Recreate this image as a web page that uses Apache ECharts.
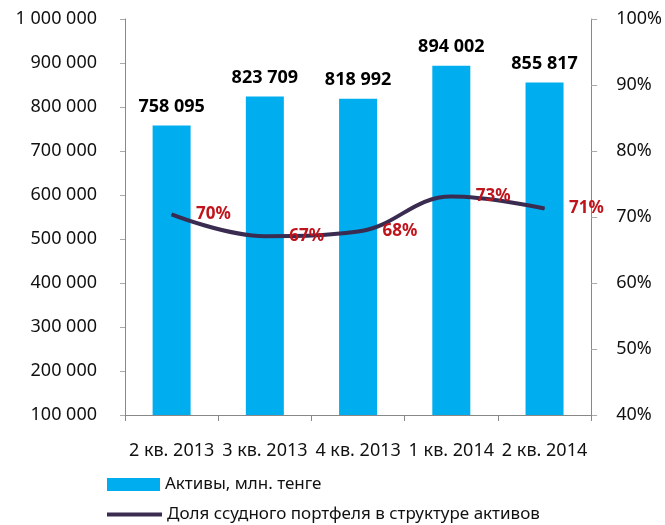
<!DOCTYPE html>
<html>
<head>
<meta charset="utf-8">
<script src="https://cdn.jsdelivr.net/npm/echarts@6/dist/echarts.min.js"></script>
<style>
  html, body { margin: 0; padding: 0; background: #fff; }
  #chart { width: 665px; height: 525px; }
</style>
</head>
<body>
<div id="chart"></div>
<script>
    var categories = ['2 кв. 2013', '3 кв. 2013', '4 кв. 2013', '1 кв. 2014', '2 кв. 2014'];
    var assets = [758095, 823709, 818992, 894002, 855817];
    var loanShare = [70.4, 67.1, 67.8, 73.1, 71.3];

    var fmt = function (v) {
        return String(v).replace(/\B(?=(\d{3})+(?!\d))/g, ' ');
    };

    var chart = echarts.init(document.getElementById('chart'));

    var option = {
        animation: false,
        textStyle: {fontFamily: 'Noto Sans'},
        title: {
            text: '(млн. тенге)',
            left: 378,
            textAlign: 'center',
            top: -21,
            textStyle: {fontSize: 14, fontWeight: 'bold', color: '#000'}
        },
        legend: [
            {
                left: 107,
                top: 476,
                padding: 0,
                itemWidth: 53,
                itemHeight: 13,
                textStyle: {fontSize: 17, color: '#111'},
                data: [{name: 'Активы, млн. тенге', icon: 'rect'}]
            },
            {
                left: 107,
                top: 506,
                padding: 0,
                itemWidth: 55,
                itemHeight: 4,
                textStyle: {fontSize: 17, color: '#111'},
                data: [{name: 'Доля ссудного портфеля в структуре активов', icon: 'rect'}]
            }
        ],
        grid: {left: 125, right: 72, top: 19, bottom: 110},
        xAxis: {
            type: 'category',
            data: categories,
            axisLine: {lineStyle: {color: '#888'}},
            axisTick: {show: true, length: 6, lineStyle: {color: '#888'}},
            axisLabel: {fontSize: 18, color: '#111', margin: 27, interval: 0}
        },
        yAxis: [
            {
                type: 'value',
                min: 100000,
                max: 1000000,
                interval: 100000,
                axisLine: {show: true, lineStyle: {color: '#888'}},
                axisTick: {show: true, length: 5, lineStyle: {color: '#aaa'}},
                splitLine: {show: false},
                axisLabel: {fontSize: 18, color: '#111', margin: 28, formatter: fmt}
            },
            {
                type: 'value',
                min: 40,
                max: 100,
                interval: 10,
                axisLine: {show: true, lineStyle: {color: '#888'}},
                axisTick: {show: true, length: 6, lineStyle: {color: '#aaa'}},
                splitLine: {show: false},
                axisLabel: {fontSize: 18, color: '#111', margin: 25, formatter: '{value}%'}
            }
        ],
        series: [
            {
                name: 'Активы, млн. тенге',
                type: 'bar',
                data: assets,
                barWidth: 38,
                itemStyle: {color: '#00AEEF'},
                label: {
                    show: true,
                    position: 'top',
                    distance: 10,
                    fontSize: 18,
                    fontWeight: 'bold',
                    color: '#000',
                    formatter: function (p) { return fmt(p.value); }
                }
            },
            {
                name: 'Доля ссудного портфеля в структуре активов',
                type: 'line',
                yAxisIndex: 1,
                data: loanShare,
                smooth: 0.4,
                symbol: 'circle',
                symbolSize: 1,
                showSymbol: true,
                lineStyle: {color: '#3A2C50', width: 4},
                itemStyle: {color: '#3A2C50'},
                label: {
                    show: true,
                    position: 'right',
                    distance: 24,
                    fontSize: 17,
                    fontWeight: 'bold',
                    color: '#C0141C',
                    formatter: function (p) { return Math.round(p.value) + '%'; }
                },
                labelLayout: {hideOverlap: false},
                z: 5
            }
        ]
    };

    chart.setOption(option);
</script>
</body>
</html>
